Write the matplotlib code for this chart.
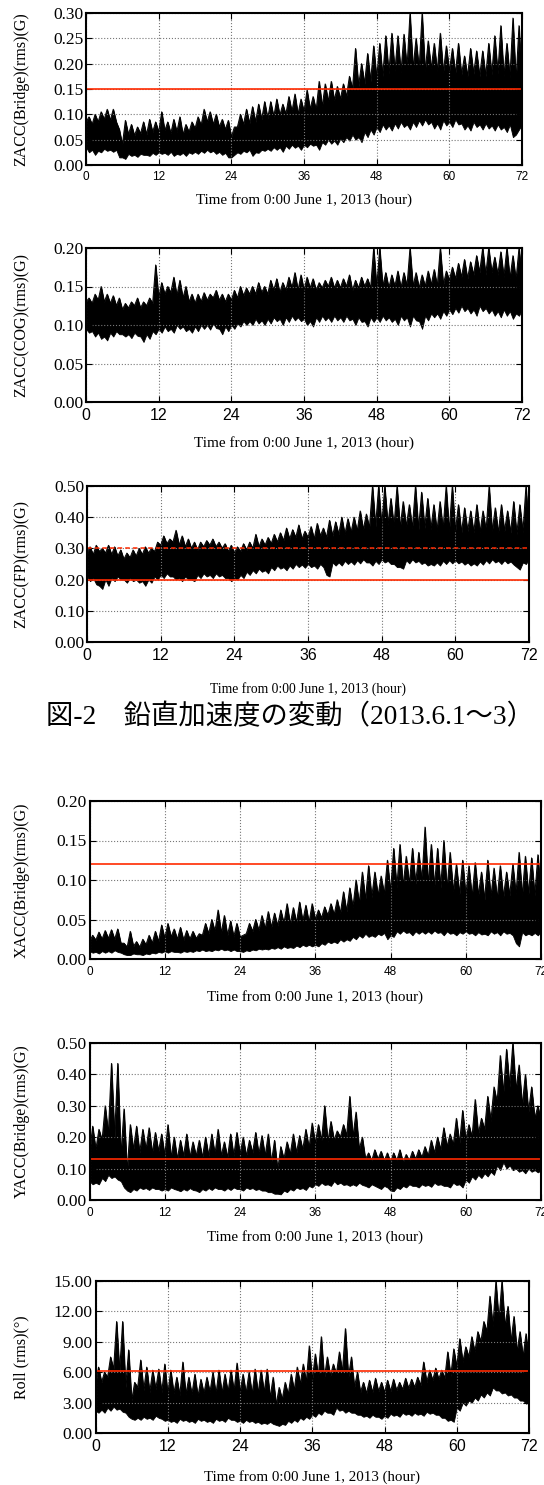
import numpy as np
import matplotlib
matplotlib.use("Agg")
import matplotlib.pyplot as plt
from matplotlib.ticker import FormatStrFormatter, MultipleLocator

W, H = 544, 1485
RED = "#ff2a00"

hours = np.arange(0, 73)
spike_hours = np.arange(0, 72) + 0.5
hour_ticks = [0, 12, 24, 36, 48, 60, 72]
xlabel_text = "Time from 0:00 June 1, 2013 (hour)"
caption = "図-2\u3000鉛直加速度の変動（2013.6.1～3）"

# lo / hi : lower and upper edge of the dense band at each hour
# pk / dn : upward and downward spikes at each half hour
# --- ZACC(Bridge)
zb_lo = [0.035, 0.030, 0.028, 0.032, 0.030, 0.030, 0.015,
         0.022, 0.020, 0.022, 0.020, 0.024,
         0.025, 0.024, 0.026, 0.022, 0.024, 0.025,
         0.026, 0.028, 0.030, 0.028, 0.026, 0.024, 0.015,
         0.025, 0.028, 0.030, 0.025, 0.030,
         0.032, 0.035, 0.035, 0.038, 0.040, 0.038,
         0.040, 0.042, 0.040, 0.045, 0.050, 0.048, 0.052, 0.055,
         0.060, 0.055, 0.065, 0.070,
         0.075, 0.080, 0.078, 0.082, 0.085, 0.080,
         0.085, 0.088, 0.090, 0.085, 0.082, 0.088,
         0.085, 0.090, 0.082, 0.078, 0.085, 0.080,
         0.082, 0.078, 0.080, 0.075, 0.080, 0.060, 0.080]
zb_hi = [0.085, 0.080, 0.085, 0.090, 0.088, 0.085, 0.040,
         0.060, 0.058, 0.062, 0.060, 0.065,
         0.065, 0.068, 0.062, 0.065, 0.060, 0.065,
         0.072, 0.078, 0.085, 0.080, 0.075, 0.070, 0.055,
         0.075, 0.080, 0.082, 0.085, 0.090,
         0.092, 0.095, 0.098, 0.100, 0.105, 0.100,
         0.105, 0.110, 0.108, 0.115, 0.125, 0.128, 0.130, 0.135,
         0.150, 0.155, 0.160, 0.165,
         0.170, 0.175, 0.180, 0.185, 0.182, 0.190,
         0.190, 0.188, 0.185, 0.190, 0.185, 0.182,
         0.185, 0.180, 0.178, 0.175, 0.180, 0.175,
         0.175, 0.178, 0.180, 0.175, 0.172, 0.165, 0.160]
zb_pk = [0.095, 0.100, 0.105, 0.110, 0.110, 0.070, 0.088,
         0.080, 0.075, 0.085, 0.090, 0.085,
         0.105, 0.085, 0.090, 0.095, 0.080, 0.085,
         0.095, 0.110, 0.105, 0.100, 0.090, 0.088,
         0.075, 0.100, 0.110, 0.115, 0.120, 0.125,
         0.125, 0.130, 0.120, 0.135, 0.140, 0.130,
         0.148, 0.135, 0.165, 0.160, 0.165, 0.155,
         0.160, 0.175, 0.230, 0.200, 0.220, 0.235,
         0.240, 0.255, 0.260, 0.255, 0.258, 0.300,
         0.250, 0.300, 0.245, 0.240, 0.260, 0.235,
         0.230, 0.240, 0.215, 0.230, 0.225, 0.225,
         0.240, 0.255, 0.275, 0.240, 0.290, 0.275]
zb_dn = [0.025, 0.020, 0.025, 0.028, 0.026, 0.015, 0.012,
         0.018, 0.016, 0.020, 0.018, 0.020,
         0.022, 0.020, 0.018, 0.020, 0.018, 0.022,
         0.022, 0.024, 0.025, 0.022, 0.020, 0.015,
         0.020, 0.022, 0.025, 0.018, 0.024, 0.028,
         0.028, 0.030, 0.026, 0.032, 0.034, 0.030,
         0.035, 0.038, 0.030, 0.040, 0.042, 0.040,
         0.045, 0.048, 0.050, 0.045, 0.055, 0.060,
         0.065, 0.070, 0.068, 0.072, 0.075, 0.070,
         0.075, 0.078, 0.080, 0.072, 0.070, 0.078,
         0.075, 0.080, 0.070, 0.068, 0.075, 0.070,
         0.072, 0.068, 0.070, 0.065, 0.055, 0.070]

# --- ZACC(COG)
zc_lo = [0.095, 0.092, 0.090, 0.085, 0.090, 0.092,
         0.088, 0.088, 0.090, 0.085, 0.088, 0.092,
         0.095, 0.098, 0.095, 0.100, 0.098, 0.095,
         0.098, 0.100, 0.100, 0.102, 0.095, 0.098,
         0.100, 0.102, 0.105, 0.105, 0.108, 0.106,
         0.108, 0.110, 0.108, 0.110, 0.112, 0.110,
         0.108, 0.105, 0.110, 0.112, 0.110, 0.112,
         0.110, 0.112, 0.108, 0.110, 0.105, 0.110,
         0.110, 0.112, 0.110, 0.108, 0.112, 0.110,
         0.112, 0.105, 0.112, 0.115, 0.115, 0.118,
         0.120, 0.122, 0.125, 0.122, 0.120, 0.125,
         0.122, 0.120, 0.118, 0.120, 0.118, 0.115, 0.120]
zc_hi = [0.130, 0.128, 0.132, 0.130, 0.128, 0.125,
         0.120, 0.122, 0.125, 0.122, 0.125, 0.128,
         0.135, 0.140, 0.142, 0.138, 0.135, 0.130,
         0.128, 0.130, 0.132, 0.135, 0.132, 0.130,
         0.132, 0.135, 0.138, 0.140, 0.140, 0.142,
         0.140, 0.145, 0.142, 0.145, 0.148, 0.145,
         0.145, 0.148, 0.145, 0.148, 0.150, 0.148,
         0.148, 0.150, 0.145, 0.148, 0.150, 0.148,
         0.148, 0.150, 0.148, 0.150, 0.148, 0.150,
         0.150, 0.148, 0.150, 0.152, 0.150, 0.152,
         0.158, 0.160, 0.162, 0.160, 0.165, 0.168,
         0.165, 0.168, 0.165, 0.162, 0.160, 0.158, 0.160]
zc_pk = [0.135, 0.140, 0.150, 0.140, 0.138, 0.135,
         0.128, 0.130, 0.135, 0.130, 0.135, 0.178,
         0.155, 0.150, 0.162, 0.158, 0.150, 0.140,
         0.140, 0.142, 0.140, 0.145, 0.140, 0.140,
         0.145, 0.150, 0.148, 0.150, 0.155, 0.150,
         0.158, 0.160, 0.155, 0.162, 0.168, 0.165,
         0.162, 0.160, 0.155, 0.158, 0.162, 0.158,
         0.160, 0.165, 0.158, 0.162, 0.160, 0.200,
         0.200, 0.168, 0.165, 0.170, 0.168, 0.200,
         0.168, 0.165, 0.170, 0.172, 0.200, 0.170,
         0.175, 0.180, 0.185, 0.182, 0.190, 0.200,
         0.200, 0.188, 0.195, 0.200, 0.190, 0.200]
zc_dn = [0.090, 0.085, 0.082, 0.080, 0.085, 0.088,
         0.085, 0.083, 0.086, 0.078, 0.082, 0.088,
         0.090, 0.092, 0.090, 0.095, 0.092, 0.090,
         0.092, 0.095, 0.094, 0.096, 0.088, 0.092,
         0.095, 0.098, 0.100, 0.100, 0.102, 0.100,
         0.102, 0.105, 0.100, 0.104, 0.106, 0.105,
         0.100, 0.098, 0.104, 0.106, 0.104, 0.106,
         0.104, 0.106, 0.100, 0.104, 0.098, 0.104,
         0.104, 0.106, 0.104, 0.100, 0.106, 0.098,
         0.106, 0.095, 0.106, 0.110, 0.108, 0.112,
         0.114, 0.116, 0.118, 0.115, 0.112, 0.118,
         0.115, 0.112, 0.110, 0.112, 0.108, 0.112]

# --- ZACC(FP)
zf_lo = [0.210, 0.205, 0.180, 0.200, 0.205, 0.210,
         0.200, 0.205, 0.200, 0.195, 0.200, 0.210,
         0.215, 0.220, 0.210, 0.205, 0.210, 0.200,
         0.215, 0.220, 0.215, 0.220, 0.215, 0.205,
         0.205, 0.215, 0.225, 0.230, 0.235, 0.230,
         0.240, 0.245, 0.240, 0.245, 0.250, 0.248,
         0.250, 0.245, 0.250, 0.215, 0.255, 0.255,
         0.260, 0.258, 0.262, 0.265, 0.255, 0.260,
         0.265, 0.260, 0.250, 0.240, 0.262, 0.265,
         0.260, 0.255, 0.250, 0.255, 0.260, 0.262,
         0.262, 0.258, 0.255, 0.252, 0.258, 0.262,
         0.265, 0.260, 0.262, 0.258, 0.240, 0.255, 0.265]
zf_hi = [0.285, 0.280, 0.290, 0.285, 0.280, 0.275,
         0.265, 0.270, 0.275, 0.280, 0.285, 0.290,
         0.310, 0.315, 0.320, 0.310, 0.305, 0.300,
         0.295, 0.305, 0.310, 0.305, 0.300, 0.290,
         0.285, 0.290, 0.295, 0.300, 0.305, 0.310,
         0.315, 0.320, 0.325, 0.330, 0.335, 0.330,
         0.335, 0.330, 0.340, 0.335, 0.340, 0.345,
         0.345, 0.350, 0.355, 0.360, 0.365, 0.370,
         0.370, 0.375, 0.370, 0.365, 0.370, 0.365,
         0.360, 0.365, 0.360, 0.355, 0.360, 0.355,
         0.355, 0.350, 0.355, 0.350, 0.350, 0.355,
         0.355, 0.350, 0.355, 0.350, 0.345, 0.350, 0.350]
zf_pk = [0.305, 0.310, 0.300, 0.310, 0.305, 0.295,
         0.285, 0.295, 0.300, 0.305, 0.300, 0.320,
         0.340, 0.330, 0.358, 0.340, 0.330, 0.320,
         0.320, 0.325, 0.330, 0.320, 0.315, 0.310,
         0.305, 0.315, 0.320, 0.345, 0.330, 0.335,
         0.345, 0.350, 0.365, 0.360, 0.375, 0.355,
         0.370, 0.380, 0.365, 0.390, 0.385, 0.400,
         0.395, 0.400, 0.420, 0.410, 0.500, 0.500,
         0.500, 0.460, 0.500, 0.450, 0.440, 0.500,
         0.480, 0.460, 0.440, 0.450, 0.500, 0.500,
         0.440, 0.430, 0.420, 0.440, 0.420, 0.500,
         0.430, 0.440, 0.420, 0.450, 0.440, 0.500]
zf_dn = [0.195, 0.185, 0.170, 0.180, 0.195, 0.200,
         0.190, 0.195, 0.190, 0.180, 0.190, 0.200,
         0.205, 0.210, 0.200, 0.195, 0.200, 0.195,
         0.205, 0.210, 0.205, 0.210, 0.205, 0.195,
         0.200, 0.205, 0.215, 0.220, 0.225, 0.220,
         0.230, 0.235, 0.230, 0.235, 0.240, 0.238,
         0.240, 0.235, 0.240, 0.210, 0.245, 0.245,
         0.250, 0.248, 0.252, 0.255, 0.245, 0.250,
         0.255, 0.250, 0.240, 0.235, 0.252, 0.255,
         0.250, 0.245, 0.245, 0.245, 0.250, 0.252,
         0.252, 0.248, 0.245, 0.245, 0.248, 0.252,
         0.255, 0.250, 0.252, 0.248, 0.232, 0.250]

# --- XACC(Bridge)
xb_lo = [0.010, 0.009, 0.010, 0.010, 0.011, 0.008, 0.005,
         0.007, 0.006, 0.007, 0.008, 0.009,
         0.010, 0.010, 0.009, 0.010, 0.010, 0.011,
         0.012, 0.011, 0.012, 0.013, 0.012, 0.012,
         0.010, 0.011, 0.012, 0.013, 0.013, 0.014,
         0.015, 0.016, 0.015, 0.017, 0.018, 0.018,
         0.018, 0.020, 0.022, 0.022, 0.025, 0.025,
         0.028, 0.030, 0.032, 0.030, 0.032, 0.033,
         0.030, 0.035, 0.036, 0.034, 0.035, 0.035,
         0.035, 0.036, 0.034, 0.035, 0.033, 0.034,
         0.035, 0.033, 0.034, 0.032, 0.035, 0.034,
         0.035, 0.033, 0.020, 0.034, 0.032, 0.033, 0.035]
xb_hi = [0.022, 0.024, 0.025, 0.026, 0.025, 0.020, 0.015,
         0.016, 0.015, 0.018, 0.020, 0.022,
         0.026, 0.028, 0.025, 0.024, 0.025, 0.026,
         0.030, 0.032, 0.035, 0.033, 0.030, 0.028,
         0.028, 0.032, 0.035, 0.036, 0.038, 0.040,
         0.042, 0.045, 0.044, 0.046, 0.048, 0.046,
         0.050, 0.052, 0.055, 0.056, 0.058, 0.060,
         0.065, 0.070, 0.075, 0.078, 0.080, 0.082,
         0.085, 0.090, 0.092, 0.095, 0.095, 0.098,
         0.095, 0.092, 0.090, 0.088, 0.085, 0.082,
         0.080, 0.078, 0.080, 0.075, 0.078, 0.076,
         0.078, 0.080, 0.082, 0.080, 0.082, 0.080, 0.078]
xb_pk = [0.030, 0.034, 0.036, 0.037, 0.038, 0.020, 0.035,
         0.022, 0.025, 0.030, 0.035, 0.043,
         0.045, 0.038, 0.040, 0.036, 0.035, 0.032,
         0.045, 0.050, 0.062, 0.055, 0.048, 0.045,
         0.030, 0.045, 0.050, 0.055, 0.060, 0.058,
         0.062, 0.070, 0.065, 0.072, 0.068, 0.070,
         0.062, 0.066, 0.070, 0.075, 0.085, 0.090,
         0.100, 0.110, 0.118, 0.110, 0.105, 0.125,
         0.140, 0.145, 0.130, 0.140, 0.135, 0.167,
         0.145, 0.140, 0.150, 0.135, 0.120, 0.125,
         0.118, 0.122, 0.110, 0.125, 0.115, 0.118,
         0.110, 0.120, 0.135, 0.130, 0.128, 0.132]
xb_dn = [0.008, 0.007, 0.008, 0.008, 0.009, 0.006, 0.005,
         0.006, 0.005, 0.006, 0.007, 0.008,
         0.008, 0.009, 0.008, 0.009, 0.009, 0.010,
         0.010, 0.010, 0.011, 0.011, 0.010, 0.010,
         0.009, 0.010, 0.011, 0.012, 0.012, 0.013,
         0.013, 0.014, 0.014, 0.015, 0.016, 0.016,
         0.016, 0.018, 0.020, 0.020, 0.022, 0.023,
         0.025, 0.027, 0.028, 0.028, 0.030, 0.025,
         0.028, 0.032, 0.033, 0.030, 0.032, 0.032,
         0.032, 0.033, 0.030, 0.032, 0.030, 0.032,
         0.032, 0.030, 0.031, 0.030, 0.032, 0.030,
         0.032, 0.030, 0.016, 0.030, 0.030, 0.030]

# --- YACC(Bridge)
yb_lo = [0.060, 0.055, 0.070, 0.080, 0.075, 0.060, 0.030,
         0.035, 0.040, 0.038, 0.040, 0.035,
         0.035, 0.040, 0.032, 0.035, 0.038, 0.030,
         0.035, 0.038, 0.040, 0.035, 0.038, 0.040,
         0.035, 0.040, 0.038, 0.035, 0.030, 0.025,
         0.020, 0.030, 0.035, 0.040, 0.038, 0.045,
         0.050, 0.055, 0.050, 0.060, 0.055, 0.050,
         0.050, 0.055, 0.045, 0.050, 0.040, 0.045,
         0.030, 0.040, 0.045, 0.050, 0.045, 0.050,
         0.048, 0.055, 0.050, 0.045, 0.055, 0.050,
         0.065, 0.075, 0.080, 0.085, 0.090, 0.110,
         0.120, 0.110, 0.100, 0.095, 0.100, 0.095, 0.095]
yb_hi = [0.150, 0.160, 0.190, 0.210, 0.200, 0.140, 0.090,
         0.160, 0.150, 0.160, 0.150, 0.155,
         0.140, 0.135, 0.130, 0.140, 0.135, 0.140,
         0.135, 0.140, 0.145, 0.140, 0.135, 0.140,
         0.145, 0.140, 0.150, 0.145, 0.140, 0.120,
         0.095, 0.130, 0.145, 0.150, 0.160, 0.165,
         0.180, 0.190, 0.185, 0.190, 0.200, 0.205,
         0.200, 0.160, 0.130, 0.125, 0.130, 0.125,
         0.120, 0.125, 0.120, 0.125, 0.130, 0.135,
         0.140, 0.150, 0.160, 0.170, 0.175, 0.180,
         0.190, 0.200, 0.210, 0.225, 0.250, 0.310,
         0.340, 0.360, 0.350, 0.300, 0.280, 0.260, 0.250]
yb_pk = [0.235, 0.225, 0.300, 0.435, 0.435, 0.290, 0.240,
         0.235, 0.225, 0.230, 0.215, 0.210,
         0.240, 0.200, 0.190, 0.210, 0.185, 0.190,
         0.200, 0.210, 0.225, 0.185, 0.210, 0.215,
         0.200, 0.190, 0.215, 0.205, 0.210, 0.190,
         0.170, 0.185, 0.210, 0.205, 0.225, 0.245,
         0.240, 0.300, 0.250, 0.220, 0.240, 0.330,
         0.280, 0.200, 0.150, 0.160, 0.155, 0.150,
         0.150, 0.160, 0.145, 0.155, 0.160, 0.170,
         0.190, 0.200, 0.230, 0.210, 0.260, 0.285,
         0.240, 0.320, 0.260, 0.330, 0.360, 0.460,
         0.480, 0.500, 0.430, 0.400, 0.360, 0.300]
yb_dn = [0.050, 0.050, 0.060, 0.070, 0.065, 0.040, 0.025,
         0.030, 0.035, 0.032, 0.035, 0.030,
         0.030, 0.035, 0.028, 0.030, 0.032, 0.025,
         0.030, 0.032, 0.035, 0.030, 0.032, 0.035,
         0.030, 0.035, 0.032, 0.030, 0.025, 0.020,
         0.018, 0.025, 0.030, 0.035, 0.032, 0.040,
         0.045, 0.048, 0.045, 0.050, 0.048, 0.045,
         0.045, 0.048, 0.040, 0.045, 0.035, 0.040,
         0.028, 0.035, 0.040, 0.045, 0.040, 0.045,
         0.042, 0.048, 0.045, 0.040, 0.048, 0.040,
         0.055, 0.065, 0.070, 0.075, 0.080, 0.095,
         0.100, 0.095, 0.090, 0.085, 0.090, 0.088]

# --- Roll (deg)
roll_lo = [2.2, 2.3, 2.5, 2.6, 2.4, 2.0, 1.4,
           1.5, 1.6, 1.5, 1.7, 1.4,
           1.3, 1.2, 1.4, 1.3, 1.2, 1.4,
           1.3, 1.2, 1.4, 1.3, 1.5, 1.3,
           1.2, 1.3, 1.2, 1.1, 1.0, 1.1,
           0.8, 0.9, 1.2, 1.3, 1.5, 1.6,
           1.8, 2.0, 2.2, 2.0, 2.5, 2.3,
           2.2, 2.0, 1.8, 1.7, 1.8, 1.6,
           1.7, 1.9, 1.8, 2.0, 1.9, 2.0,
           1.9, 2.1, 2.0, 1.8, 1.5, 1.3,
           2.5, 3.0, 3.2, 3.5, 3.8, 4.0,
           4.5, 4.2, 4.0, 3.8, 3.5, 3.2, 3.0]
roll_hi = [4.8, 5.0, 5.5, 6.3, 6.0, 4.5, 3.2,
           4.5, 4.2, 4.0, 4.3, 4.0,
           3.8, 3.9, 3.7, 3.8, 3.8, 3.6,
           3.9, 4.0, 3.8, 3.9, 4.0, 4.1,
           4.0, 3.9, 3.8, 3.9, 4.0, 3.5,
           2.8, 3.3, 3.8, 4.2, 4.8, 5.0,
           5.2, 5.5, 5.4, 5.6, 5.8, 6.0,
           5.5, 4.5, 4.0, 3.9, 4.0, 4.1,
           4.0, 4.1, 4.2, 4.3, 4.4, 4.5,
           4.7, 5.0, 5.2, 5.3, 5.4, 5.6,
           6.5, 7.0, 7.5, 8.0, 9.0, 10.0,
           10.5, 11.0, 10.5, 9.0, 8.0, 7.5, 7.0]
roll_pk = [6.5, 6.0, 7.5, 11.0, 11.0, 8.2, 5.0,
           7.2, 6.5, 6.2, 6.3, 6.8,
           6.2, 5.5, 7.0, 5.5, 5.8, 5.3,
           5.5, 6.0, 6.2, 5.8, 6.2, 6.9,
           5.8, 6.0, 6.3, 6.2, 6.3, 5.5,
           4.5, 5.0, 5.8, 6.5, 6.8, 8.6,
           7.8, 9.5, 7.5, 6.8, 8.0, 10.3,
           7.5, 6.0, 5.0, 5.2, 5.4, 5.0,
           5.2, 5.3, 5.0, 5.4, 5.3, 5.5,
           7.0, 6.2, 6.4, 6.2, 8.0, 8.3,
           9.3, 8.5, 9.5, 10.0, 11.0, 13.5,
           15.0, 15.0, 12.5, 11.5, 10.0, 9.8]
roll_dn = [2.0, 2.0, 2.2, 2.3, 2.1, 1.6, 1.3,
           1.3, 1.4, 1.3, 1.5, 1.2,
           1.1, 1.0, 1.2, 1.1, 1.0, 1.2,
           1.1, 1.0, 1.2, 1.1, 1.3, 1.1,
           1.0, 1.1, 1.0, 0.9, 0.9, 0.9,
           0.7, 0.8, 1.0, 1.1, 1.3, 1.4,
           1.6, 1.8, 2.0, 1.8, 2.2, 2.0,
           2.0, 1.8, 1.6, 1.5, 1.6, 1.4,
           1.5, 1.7, 1.6, 1.8, 1.7, 1.8,
           1.7, 1.9, 1.8, 1.5, 1.2, 1.1,
           2.2, 2.7, 3.0, 3.2, 3.5, 3.7,
           4.2, 3.9, 3.7, 3.5, 3.2, 2.9]

# reference lines (red)
zb_limit = 0.15
zf_limits = [(0.30, "dashed"), (0.20, "solid")]
xb_limit = 0.12
yb_limit = 0.13
roll_limit = 6.1

panels = [
    dict(d=(zb_lo, zb_hi, zb_pk, zb_dn), ylabel="ZACC(Bridge)(rms)(G)",
         ymax=0.30, ystep=0.05, box=(86, 522, 13, 165), xt_size=8.5, xt_pad=4,
         xl_y=200, xl_size=10.8, refs=[(zb_limit, "solid")]),
    dict(d=(zc_lo, zc_hi, zc_pk, zc_dn), ylabel="ZACC(COG)(rms)(G)",
         ymax=0.20, ystep=0.05, box=(86, 522, 248, 402), xt_size=11.5, xt_pad=4,
         xl_y=443, xl_size=11, refs=[]),
    dict(d=(zf_lo, zf_hi, zf_pk, zf_dn), ylabel="ZACC(FP)(rms)(G)",
         ymax=0.50, ystep=0.10, box=(87, 529, 486, 642), xt_size=11.5, xt_pad=4,
         xl_y=689, xl_size=9.8, refs=zf_limits),
    dict(d=(xb_lo, xb_hi, xb_pk, xb_dn), ylabel="XACC(Bridge)(rms)(G)",
         ymax=0.20, ystep=0.05, box=(89.5, 541, 801, 959), xt_size=8.5, xt_pad=5,
         xl_y=997, xl_size=10.8, refs=[(xb_limit, "solid")]),
    dict(d=(yb_lo, yb_hi, yb_pk, yb_dn), ylabel="YACC(Bridge)(rms)(G)",
         ymax=0.50, ystep=0.10, box=(89.5, 541, 1043, 1200), xt_size=8.5, xt_pad=5,
         xl_y=1237, xl_size=10.8, refs=[(yb_limit, "solid")]),
    dict(d=(roll_lo, roll_hi, roll_pk, roll_dn), ylabel="Roll (rms)(°)",
         ymax=15.0, ystep=3.0, box=(95.5, 529, 1281, 1433), xt_size=11.5, xt_pad=4,
         xl_y=1477, xl_size=10.8, refs=[(roll_limit, "solid")]),
]

SERIF = ["Liberation Serif", "DejaVu Serif"]
SANS = ["Liberation Sans", "DejaVu Sans"]


def zigzag(a, b):
    # hourly values a[h] alternating with half-hour values b[h]
    a = np.asarray(a)
    return np.append(np.column_stack([a[:-1], b]).ravel(), a[-1])


zig_x = zigzag(hours, spike_hours)

fig = plt.figure(figsize=(W / 100, H / 100), dpi=100)

for p in panels:
    left, right, top, bottom = p["box"]
    ax = fig.add_axes([left / W, 1 - bottom / H, (right - left) / W, (bottom - top) / H])
    lo, hi, pk, dn = p["d"]

    upper = zigzag(hi, pk)
    lower = zigzag(lo, dn)
    ax.fill_between(zig_x, lower, upper, color="black", lw=0.6)
    ax.plot(zig_x, upper, color="black", lw=0.7)
    for val, ls in p["refs"]:
        if ls == "dashed":
            ax.axhline(val, color=RED, lw=1.1, ls=(0, (3, 2)))
        else:
            ax.axhline(val, color=RED, lw=1.2)

    ax.set_xlim(0, 72)
    ax.set_ylim(0, p["ymax"])
    ax.set_xticks(hour_ticks)
    ax.yaxis.set_major_locator(MultipleLocator(p["ystep"]))
    ax.yaxis.set_major_formatter(FormatStrFormatter("%.2f"))
    ax.grid(True, color="#777777", ls=":", lw=0.8)
    ax.tick_params(direction="in", top=True, right=True, length=4, width=0.8)
    ax.tick_params(axis="x", labelsize=p["xt_size"], pad=p["xt_pad"])
    ax.tick_params(axis="y", labelsize=12.5, pad=2)
    for t in ax.get_xticklabels():
        t.set_family(SANS)
    for t in ax.get_yticklabels():
        t.set_family(SERIF)
    for s in ax.spines.values():
        s.set_linewidth(1.5)

    fig.text(21.5 / W, 1 - (top + bottom) / 2 / H, p["ylabel"], rotation=90,
             ha="center", va="center", fontsize=11.5, family=SERIF)
    fig.text((left + right) / 2 / W, 1 - p["xl_y"] / H, xlabel_text,
             ha="center", va="center", fontsize=p["xl_size"], family=SERIF)

fig.text(290 / W, 1 - 717 / H, caption, ha="center", va="center",
         fontsize=19.7, family=["Liberation Serif", "Noto Sans CJK JP"])

fig.savefig("out.png", dpi=100)
